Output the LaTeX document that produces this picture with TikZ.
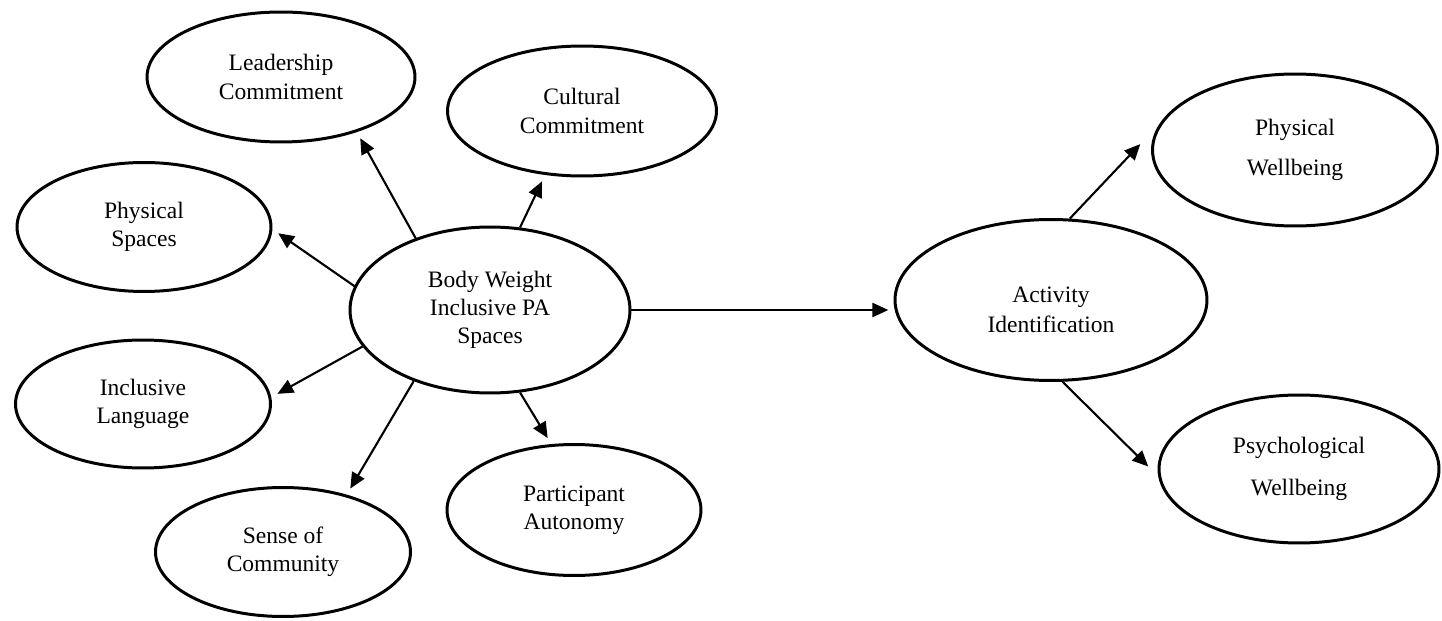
\documentclass[tikz,border=0pt]{standalone}
\usepackage{fontspec}
\setmainfont{Liberation Serif}
\usetikzlibrary{arrows.meta, shapes.geometric}

\begin{document}
\begin{tikzpicture}[x=0.02cm, y=-0.02cm,
    every node/.style={draw, ellipse, line width=1.7pt, inner sep=0pt, align=center, font=\fontsize{13.4pt}{16pt}\selectfont},
    link/.style={-{Triangle[length=9pt, width=8pt]}, line width=1.2pt, shorten >=4pt}]
    \useasboundingbox (0,0) rectangle (1442,621);

    \node (lead) at (281,77) [minimum width=5.36cm, minimum height=2.6cm] {Leadership\\Commitment};
    \node (cult) at (582,111) [minimum width=5.38cm, minimum height=2.6cm] {Cultural\\Commitment};
    \node (phys) at (144,227) [minimum width=5.08cm, minimum height=2.58cm] {Physical\\Spaces};
    \node (body) at (490,310) [minimum width=5.6cm, minimum height=3.32cm] {Body Weight\\Inclusive PA\\Spaces};
    \node (incl) at (143,404) [minimum width=5.1cm, minimum height=2.56cm] {Inclusive\\Language};
    \node (sense) at (283,552) [minimum width=5.1cm, minimum height=2.58cm] {Sense of\\Community};
    \node (part) at (574,510) [minimum width=5.08cm, minimum height=2.62cm] {Participant\\Autonomy};
    \node (act) at (1051,300) [minimum width=6.24cm, minimum height=3.22cm] {\rule{0pt}{20pt}Activity\\[1pt]Identification};
    \node (physwb) at (1295,150) [minimum width=5.7cm, minimum height=3.04cm] {Physical\\[6.7pt]Wellbeing};
    \node (psywb) at (1299,469) [minimum width=5.6cm, minimum height=2.96cm] {Psychological\\[7.5pt]Wellbeing};

    \draw[link] (body.136.5) -- (lead.-36);
    \draw[link] (body.70.4) -- (cult.-120);
    \draw[link] (body.170.6) -- (phys.-1);
    \draw[link] (body.-164) -- (incl.3);
    \draw[link] (body.-137) -- (sense.42);
    \draw[link] (body.-70) -- (part.109);
    \draw[link, shorten >=3pt] (body.east) -- (body.east -| act.west);
    \draw[link, shorten >=16pt] (act.77) -- (physwb.169);
    \draw[link, shorten >=8pt] (act.-82) -- (psywb.-177);
\end{tikzpicture}
\end{document}
